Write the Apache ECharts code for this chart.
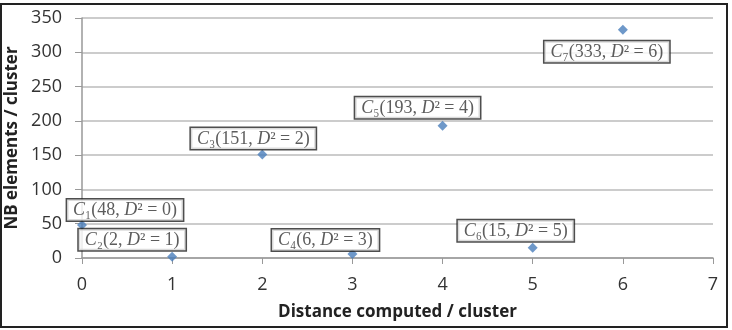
<!DOCTYPE html>
<html>
<head>
<meta charset="utf-8">
<script src="https://cdn.jsdelivr.net/npm/echarts@6/dist/echarts.min.js"></script>
<style>
  html, body { margin: 0; padding: 0; background: #fff; }
  #chart { width: 732px; height: 330px; }
</style>
</head>
<body>
<div id="chart"></div>
<script>
// distance computed per cluster vs number of elements
const distances = [0, 1, 2, 3, 4, 5, 6]
const elements = [48, 2, 151, 6, 193, 15, 333]
const clusterIds = ['₁', '₂', '₃', '₄', '₅', '₆', '₇']
const yTicks = [0, 50, 100, 150, 200, 250, 300, 350]

// where each label box sits relative to its point (px)
const labelOffsets = [[43, -15], [-40, -17], [-9, -16], [-27, -14], [-25, -18], [-17, -17], [-16, 22]]

const axisText = {
  fontFamily: 'Open Sans',
  fontSize: 18,
  color: '#333'
}

const chart = echarts.init(document.getElementById('chart'))

chart.setOption({
  animation: false,
  grid: { left: 82, right: 19, top: 18, bottom: 72, outerBoundsMode: 'none' },
  graphic: [{
    type: 'rect',
    shape: { x: 1, y: 4, width: 726, height: 323 },
    style: { fill: 'none', stroke: '#222', lineWidth: 2 },
    silent: true
  }],
  xAxis: {
    type: 'value',
    min: 0,
    max: 7,
    interval: 1,
    name: 'Distance computed / cluster',
    nameLocation: 'middle',
    nameGap: 46,
    nameTextStyle: { fontFamily: 'Open Sans', fontSize: 17, fontWeight: 'bold', color: '#222' },
    axisLine: { lineStyle: { color: '#999', width: 1.5 } },
    axisTick: { show: true, length: 6, lineStyle: { color: '#999' } },
    axisLabel: Object.assign({ margin: 18 }, axisText),
    splitLine: { show: false }
  },
  yAxis: {
    type: 'value',
    min: 0,
    max: yTicks[yTicks.length - 1],
    interval: 50,
    name: 'NB elements / cluster',
    nameLocation: 'middle',
    nameGap: 60,
    nameTextStyle: { fontFamily: 'Open Sans', fontSize: 17, fontWeight: 'bold', color: '#222' },
    axisLine: { show: true, lineStyle: { color: '#999', width: 1.5 } },
    axisTick: { show: true, length: 7, lineStyle: { color: '#999' } },
    axisLabel: Object.assign({ margin: 20 }, axisText),
    splitLine: { lineStyle: { color: '#bbb', width: 1.5 } }
  },
  series: [{
    type: 'scatter',
    symbol: 'diamond',
    symbolSize: 10,
    itemStyle: { color: '#4a7ebb' },
    data: distances.map((d, i) => ({
      value: [d, elements[i]],
      label: {
        show: true,
        position: 'inside',
        offset: labelOffsets[i],
        formatter: '{i|C}' + clusterIds[i] + '(' + elements[i] + ', {i|D}² = ' + d + ')'
      }
    })),
    label: {
      fontFamily: 'Liberation Serif',
      fontSize: 18,
      color: '#333',
      backgroundColor: '#fff',
      borderColor: '#222',
      borderWidth: 1.5,
      padding: [2, 6, 1, 6],
      rich: {
        i: { fontFamily: 'Liberation Serif', fontStyle: 'italic', fontSize: 18, color: '#333' }
      }
    },
    z: 3
  }]
})
</script>
</body>
</html>
